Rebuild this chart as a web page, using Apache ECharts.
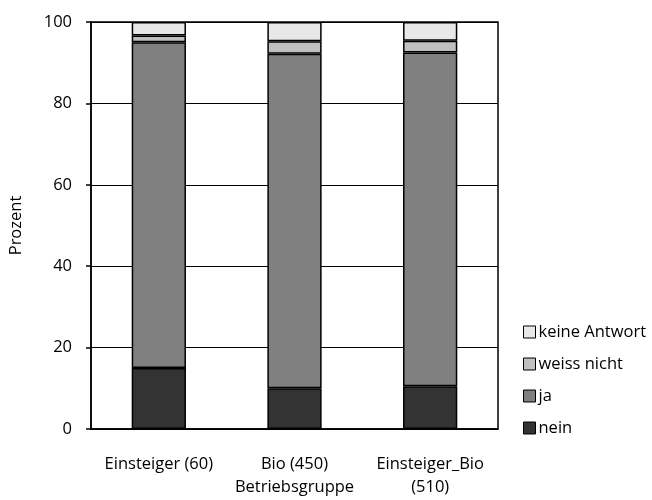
<!DOCTYPE html>
<html><head><meta charset="utf-8">
<script src="https://cdn.jsdelivr.net/npm/echarts@6/dist/echarts.min.js"></script>
<style>html,body{margin:0;padding:0;background:#fff}#c{width:652px;height:500px}</style>
</head><body><div id="c"></div>
<script>
const categories = ['Einsteiger (60)', 'Bio (450)', 'Einsteiger_Bio\n(510)'];
const nein = [15.0, 10.0, 10.5];
const ja = [80.0, 82.2, 82.0];
const weissNicht = [1.7, 3.1, 2.9];
const keineAntwort = [3.3, 4.7, 4.6];
const yTicks = [0, 20, 40, 60, 80, 100];
const xTitle = 'Betriebsgruppe';
const yTitle = 'Prozent';

const font = '"Open Sans", "Noto Sans", sans-serif';
const fs = 16.5;
const chart = echarts.init(document.getElementById('c'));
function s(name, data, color) {
  return {name, type: 'bar', stack: 'a', data, barWidth: '40%',
    itemStyle: {color, borderColor: '#000', borderWidth: 1.5},
    emphasis: {disabled: true}};
}
chart.setOption({
  animation: false,
  textStyle: {fontFamily: font},
  grid: {left: 91, right: 154, top: 22, bottom: 71, outerBoundsMode: 'none', containLabel: false,
    show: true, borderColor: '#000', borderWidth: 1.5},
  legend: {
    orient: 'vertical', left: 518, top: 317, itemGap: 12, itemWidth: 12, itemHeight: 12,
    icon: 'rect', textStyle: {fontSize: fs, lineHeight: 20, color: '#000', fontFamily: font, padding: [0,0,0,-2]},
    data: ['keine Antwort', 'weiss nicht', 'ja', 'nein'],
    itemStyle: {borderColor: '#000', borderWidth: 1}
  },
  xAxis: {
    type: 'category', data: categories,
    name: xTitle, nameLocation: 'middle', nameGap: 50, nameMoveOverlap: false,
    nameTextStyle: {fontSize: fs, color: '#000', fontFamily: font},
    axisLine: {lineStyle: {color: '#000', width: 1.5}},
    axisTick: {show: false},
    axisLabel: {fontSize: fs, color: '#000', margin: 24, lineHeight: 23, fontFamily: font,
      interval: 0, hideOverlap: false}
  },
  yAxis: {
    type: 'value', min: 0, max: 100, interval: 20,
    name: yTitle, nameLocation: 'middle', nameGap: 66, nameRotate: 90, nameMoveOverlap: false,
    nameTextStyle: {fontSize: fs, color: '#000', fontFamily: font},
    axisLine: {show: true, lineStyle: {color: '#000', width: 1.5}},
    axisTick: {show: true, length: 5, lineStyle: {color: '#000', width: 1.5}},
    axisLabel: {fontSize: fs, color: '#000', margin: 19, fontFamily: font,
      formatter: v => yTicks.includes(v) ? String(v) : ''},
    splitLine: {show: true, lineStyle: {color: '#000', width: 1.2}}
  },
  series: [
    s('nein', nein, '#333333'),
    s('ja', ja, '#808080'),
    s('weiss nicht', weissNicht, '#c0c0c0'),
    s('keine Antwort', keineAntwort, '#e8e8e8')
  ]
});
</script></body></html>
